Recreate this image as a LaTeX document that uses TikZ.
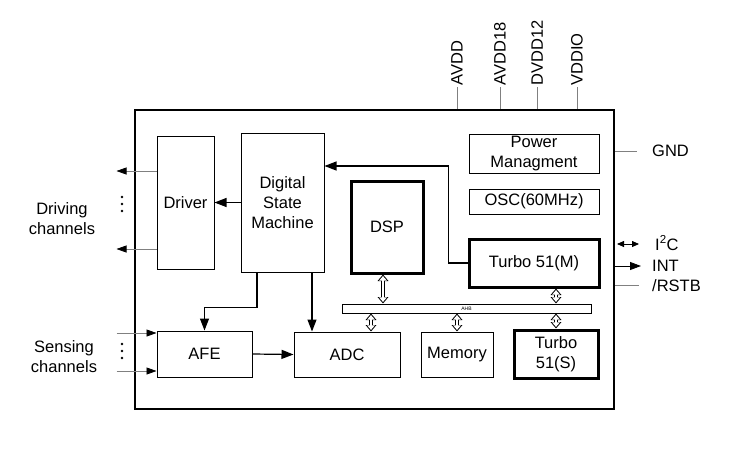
\documentclass[tikz,border=0pt]{standalone}
\usepackage{fontspec}
\setmainfont{Liberation Sans}
\usetikzlibrary{arrows.meta}
\tikzset{
	blk/.style={draw, line width=1pt, align=center, inner sep=0pt},
	bold/.style={draw, line width=3pt, align=center, inner sep=0pt},
	arr/.style={line width=1.2pt, -{Triangle[length=12pt,width=9pt]}},
	dbl/.style={white, line width=2.4pt, shorten <=1.6pt, shorten >=1.6pt,
		{Triangle[length=4.5pt,width=7.5pt]}-{Triangle[length=4.5pt,width=7.5pt]},
		preaction={draw=black, line width=4.2pt, shorten <=0pt, shorten >=0pt,
		{Triangle[length=6.5pt,width=10.5pt]}-{Triangle[length=6.5pt,width=10.5pt]}}},
	pin/.style={gray, line width=0.8pt},
	sarr/.style={line width=0.8pt, -{Triangle[length=10pt,width=7pt,color=black]}}
}
\begin{document}
\begin{tikzpicture}[x=1pt, y=-1pt, font=\fontsize{16.5}{20}\selectfont]
	\useasboundingbox (0,0) rectangle (754,469);
	\node[draw, line width=2pt, minimum width=479pt, minimum height=299pt] (chip) at (374.5,259.5) {};
	\node[blk, minimum width=57pt, minimum height=133pt] (drv) at (185.5,202.5) {Driver};
	\node[blk, minimum width=83pt, minimum height=139pt] (dsm) at (282.5,202.5) {Digital\\State\\Machine};
	\node[blk, minimum width=130pt, minimum height=39pt] (pwr) at (534,153.5) {Power\\Managment};
	\node[blk, minimum width=130pt, minimum height=25pt] (osc) at (534,201.5) {OSC(60MHz)};
	\node[bold, minimum width=130pt, minimum height=48pt] (tm) at (534,263) {Turbo 51(M)};
	\node[bold, minimum width=72pt, minimum height=92pt] (dsp) at (387,227) {DSP};
	\node[blk, minimum width=249pt, minimum height=9pt, font=\fontsize{5}{6}\selectfont] (ahb) at (466.5,308.5) {AHB};
	\node[blk, minimum width=95pt, minimum height=46pt] (afe) at (204.5,354) {AFE};
	\node[blk, minimum width=106pt, minimum height=45pt] (adc) at (347,354.5) {ADC};
	\node[blk, minimum width=72pt, minimum height=45pt] (mem) at (457,354.5) {Memory};
	\node[bold, minimum width=84pt, minimum height=48pt] (ts) at (556,354) {Turbo\\51(S)};
	\draw[arr] (dsm.west) -- (drv.east);
	\draw[arr] (tm.west) -- ++(-19,0) |- ([yshift=36.5pt]dsm.east);
	\draw[arr] ([xshift=-25.5pt]dsm.south) -- ++(0,35) -| (afe.north);
	\draw[arr] ([xshift=29.5pt]dsm.south) -- ([xshift=29.5pt]dsm.south |- adc.north);
	\draw[arr] (afe.east) -- (adc.west);
	\draw[dbl] ([xshift=-4pt]dsp.south) -- ([xshift=-4pt]dsp.south |- ahb.north);
	\draw[dbl] (ts.north |- tm.south) -- (ts.north |- ahb.north);
	\draw[dbl] ([xshift=24pt]adc.north |- ahb.south) -- ([xshift=24pt]adc.north);
	\draw[dbl] (mem.north |- ahb.south) -- (mem.north);
	\draw[dbl] (ts.north |- ahb.south) -- (ts.north);
	\foreach \x/\t in {457/AVDD, 500/AVDD18, 537/DVDD12, 577/VDDIO}
		\draw[pin] (chip.north -| \x,0) -- ++(0,-22) node[black, rotate=90, anchor=west, inner sep=1pt] (\t) {\t};
	\draw[pin] (chip.east |- 0,151) -- ++(22,0);
	\node[anchor=west, inner sep=0pt] (gnd) at (652,151) {GND};
	\draw[line width=0.8pt, {Triangle[length=7pt,width=6pt]}-{Triangle[length=7pt,width=6pt]}] (chip.east |- 0,244) ++(2,0) -- ++(22,0);
	\node[anchor=west, inner sep=0pt] (i2c) at (655,243) {I\textsuperscript{2}C};
	\draw[line width=0.8pt, -{Triangle[length=11pt,width=8pt]}] (chip.east |- 0,266) -- ++(26,0);
	\node[anchor=west, inner sep=0pt] (int) at (652,266) {INT};
	\draw[pin] (chip.east |- 0,285) -- ++(24,0);
	\node[anchor=west, inner sep=0pt] (rstb) at (652,286) {/RSTB};
	\draw[pin, sarr] (drv.west |- 0,171) -- ++(-40,0);
	\draw[pin, sarr] (drv.west |- 0,249) -- ++(-40,0);
	\draw[pin, sarr] (afe.west |- 0,333) ++(-40,0) -- ++(40,0);
	\draw[pin, sarr] (afe.west |- 0,371) ++(-40,0) -- ++(40,0);
	\foreach \y in {197,204,211} \fill (122,\y) circle (1.3pt);
	\foreach \y in {344,351,358} \fill (122,\y) circle (1.3pt);
	\node[align=center] (drive) at (62,219) {Driving\\channels};
	\node[align=center] (sense) at (64,357) {Sensing\\channels};
\end{tikzpicture}
\end{document}
